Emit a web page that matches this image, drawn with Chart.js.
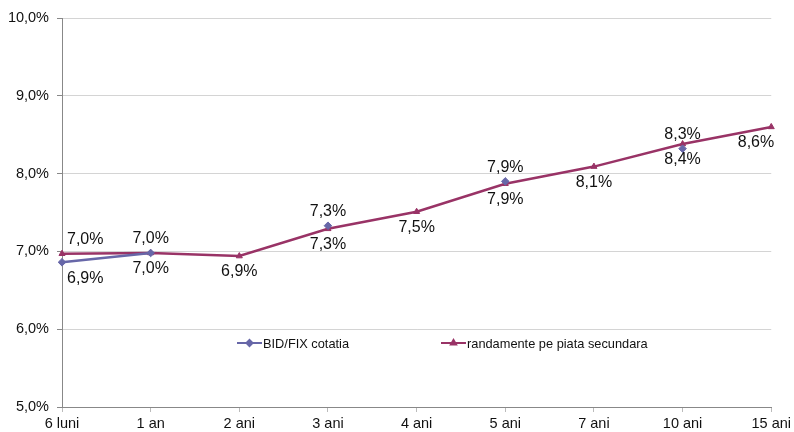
<!DOCTYPE html>
<html>
<head>
<meta charset="utf-8">
<script src="https://cdn.jsdelivr.net/npm/chart.js@4/dist/chart.umd.min.js"></script>
<style>
  html, body { margin: 0; padding: 0; background: #fff; }
  #wrap { width: 794px; height: 432px; }
</style>
</head>
<body>
<div id="wrap"><canvas id="yieldChart" width="794" height="432"></canvas></div>
<script>
"use strict";
const maturities = ['6 luni', '1 an', '2 ani', '3 ani', '4 ani', '5 ani', '7 ani', '10 ani', '15 ani'];
const bidFix = [6.86, 6.98, null, 7.33, null, 7.90, null, 8.32, null];
const secondary = [6.97, 6.98, 6.94, 7.29, 7.51, 7.87, 8.09, 8.38, 8.60];
const bidFixLabelSide = ['below', 'below', null, 'above', null, 'above', null, 'above', null];
const secondaryLabelSide = ['above', 'above', 'below', 'below', 'below', 'below', 'below', 'below', 'below'];
const seriesNames = ['BID/FIX cotatia', 'randamente pe piata secundara'];

const BLUE = '#6767a8';
const RED = '#993366';
const FONT = '"Liberation Sans", Arial, sans-serif';

function fmtPct(v) {
    return v.toFixed(1).replace('.', ',') + '%';
}

const valueLabels = {
    id: 'valueLabels',
    afterDatasetsDraw(chart) {
        const ctx = chart.ctx;
        const sides = [bidFixLabelSide, secondaryLabelSide];
        ctx.save();
        ctx.font = '16px ' + FONT;
        ctx.fillStyle = '#111';
        ctx.textBaseline = 'middle';
        chart.data.datasets.forEach((ds, di) => {
            const meta = chart.getDatasetMeta(di);
            meta.data.forEach((pt, i) => {
                const v = ds.data[i];
                if (v === null || !sides[di][i]) {
                    return;
                }
                let x = pt.x;
                const y = pt.y + (sides[di][i] === 'above' ? -14 : 16);
                ctx.textAlign = 'center';
                if (i === 0) {
                    ctx.textAlign = 'left';
                    x += 5;
                } else if (i === ds.data.length - 1) {
                    ctx.textAlign = 'right';
                    x += 3;
                }
                ctx.fillText(fmtPct(v), x, y);
            });
        });
        ctx.restore();
    }
};

const insideLegend = {
    id: 'insideLegend',
    afterDraw(chart) {
        const ctx = chart.ctx;
        const items = [
            { x: 237, color: BLUE, style: 'rectRot' },
            { x: 441, color: RED, style: 'triangle' }
        ];
        const y = 343;
        ctx.save();
        ctx.font = '12.8px ' + FONT;
        ctx.textBaseline = 'middle';
        ctx.textAlign = 'left';
        items.forEach((item, i) => {
            ctx.strokeStyle = item.color;
            ctx.lineWidth = 2;
            ctx.beginPath();
            ctx.moveTo(item.x, y);
            ctx.lineTo(item.x + 25, y);
            ctx.stroke();
            ctx.fillStyle = item.color;
            Chart.helpers.drawPoint(ctx, { pointStyle: item.style, radius: 3, borderWidth: 1 }, item.x + 12.5, y);
            ctx.fillStyle = '#111';
            ctx.fillText(seriesNames[i], item.x + 26, y + 1);
        });
        ctx.restore();
    }
};

const context = document.getElementById('yieldChart');
const yieldChart = new Chart(context, {
    type: 'line',
    data: {
        labels: maturities,
        datasets: [
            {
                label: seriesNames[0],
                data: bidFix,
                borderColor: BLUE,
                backgroundColor: BLUE,
                borderWidth: 2.5,
                pointStyle: 'rectRot',
                pointRadius: 3.8,
                pointBorderWidth: 1,
                spanGaps: false,
                tension: 0
            },
            {
                label: seriesNames[1],
                data: secondary,
                borderColor: RED,
                backgroundColor: RED,
                borderWidth: 2.5,
                pointStyle: 'triangle',
                pointRadius: 3.5,
                pointBorderWidth: 1,
                tension: 0
            }
        ]
    },
    options: {
        responsive: false,
        animation: false,
        layout: { padding: { top: 18, right: 22, left: 0, bottom: 0 } },
        plugins: {
            legend: { display: false },
            tooltip: { enabled: false }
        },
        scales: {
            x: {
                offset: false,
                border: { color: '#888', width: 1 },
                grid: { drawOnChartArea: false, drawTicks: true, tickLength: 5, tickColor: '#bbb' },
                afterFit(scale) { scale.height = 25; },
                ticks: { color: '#111', font: { family: FONT, size: 14.5 }, padding: 3, maxRotation: 0, autoSkip: false }
            },
            y: {
                min: 5,
                max: 10,
                border: { color: '#888', width: 1 },
                grid: { color: '#d4d4d4', lineWidth: 1, drawTicks: true, tickLength: 5, tickColor: '#888' },
                afterFit(scale) { scale.width = 62; },
                ticks: {
                    stepSize: 1,
                    color: '#111',
                    padding: 8,
                    font: { family: FONT, size: 14.5 },
                    callback: v => fmtPct(v)
                }
            }
        }
    },
    plugins: [valueLabels, insideLegend]
});
</script>
</body>
</html>
